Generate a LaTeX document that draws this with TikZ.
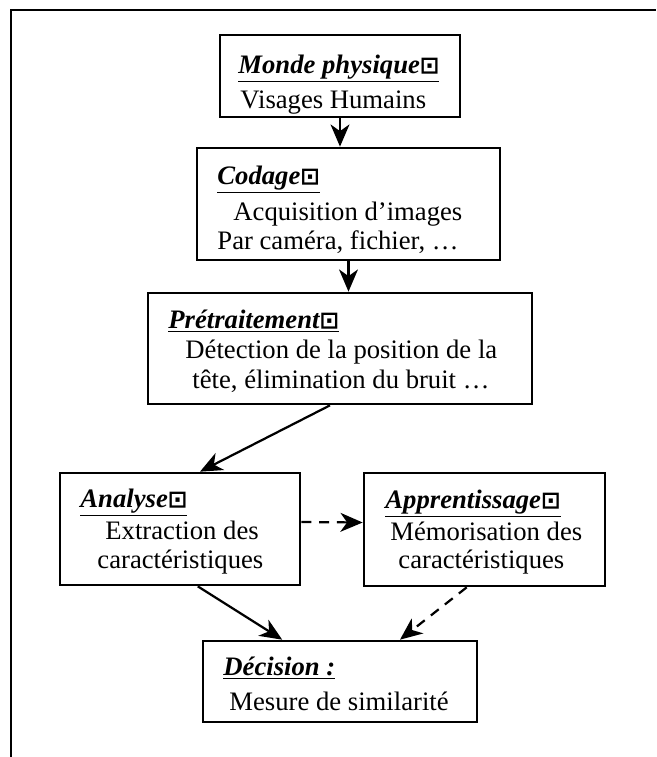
\documentclass[tikz,border=0pt]{standalone}
\usepackage{fontspec}
\setmainfont{Liberation Serif}
\newfontfamily\symfont{DejaVu Sans}
\usetikzlibrary{arrows.meta}
\newcommand{\carre}{{\symfont\bfseries\upshape\fontsize{10.5}{10.5}\selectfont ⊡}}
\newcommand{\titre}[1]{\underline{#1}}
\tikzstyle{bloc}=[rectangle,draw=black,line width=1.2pt,inner sep=0pt]
\tikzstyle{ttl}=[anchor=base west,inner sep=0pt,font=\fontsize{12}{14}\selectfont\bfseries\itshape]
\tikzstyle{txt}=[anchor=base west,inner sep=0pt]
\tikzstyle{fl}=[-{Stealth[length=10pt,width=8.5pt,inset=3pt]},line width=1pt]
\tikzstyle{fld}=[fl,dash pattern=on 4.5pt off 3.5pt]

\begin{document}
\begin{tikzpicture}[x=0.45pt,y=-0.45pt,font=\fontsize{12}{14}\selectfont]
    \useasboundingbox (0,0) rectangle (656,757);
    \draw [line width=0.9pt] (11,757) -- (11,10) -- (656,10);
    % blocs
    \node [style=bloc,minimum width=108pt,minimum height=36.9pt] (monde) at (340,76) {};
    \node [style=bloc,minimum width=136.35pt,minimum height=50.4pt] (codage) at (348.5,204) {};
    \node [style=bloc,minimum width=172.8pt,minimum height=49.95pt] (pretrait) at (340,348.5) {};
    \node [style=bloc,minimum width=108pt,minimum height=50.4pt] (analyse) at (180,529) {};
    \node [style=bloc,minimum width=108.45pt,minimum height=50.85pt] (apprent) at (484.5,529.5) {};
    \node [style=bloc,minimum width=123.3pt,minimum height=36.45pt] (decision) at (340,681.5) {};
    % textes
    \node [style=ttl] (mondet) at (238,73) {\titre{Monde physique\carre}};
    \node [style=txt] (mondel) at (240,108) {Visages Humains};
    \node [style=ttl] (codaget) at (217,184) {\titre{Codage\carre}};
    \node [style=txt] (codagel1) at (233,220) {Acquisition d’images};
    \node [style=txt] (codagel2) at (217,249) {Par caméra, fichier, …};
    \node [style=ttl] (pretraitt) at (168,328) {\titre{Prétraitement\carre}};
    \node [style=txt] (pretraitl1) at (185,358) {Détection de la position de la};
    \node [style=txt] (pretraitl2) at (192,388) {tête, élimination du bruit …};
    \node [style=ttl] (analyset) at (80,507) {\titre{Analyse\carre}};
    \node [style=txt] (analysel1) at (105,539) {Extraction des};
    \node [style=txt] (analysel2) at (97,568) {caractéristiques};
    \node [style=ttl] (apprentt) at (385,508) {\titre{Apprentissage\carre}};
    \node [style=txt] (apprentl1) at (390,540) {Mémorisation des};
    \node [style=txt] (apprentl2) at (398,568) {caractéristiques};
    \node [style=ttl] (decisiont) at (223,675) {\titre{Décision :}};
    \node [style=txt] (decisionl) at (229,710) {Mesure de similarité};
    % fleches
    \draw [style=fl] (monde.south) to (monde.south |- codage.north);
    \draw [style=fl] (codage.south) to (codage.south |- pretrait.north);
    \draw [style=fl] ([xshift=-4.5pt]pretrait.south) to ([xshift=9pt]analyse.north);
    \draw [style=fl] ([xshift=8pt]analyse.south) to ([xshift=-26pt]decision.north);
    \draw [style=fld] ([yshift=3.15pt]analyse.east) to ([yshift=3.15pt]apprent.west);
    \draw [style=fld] ([xshift=-8pt]apprent.south) to ([xshift=27pt]decision.north);
  \end{tikzpicture}
\end{document}
